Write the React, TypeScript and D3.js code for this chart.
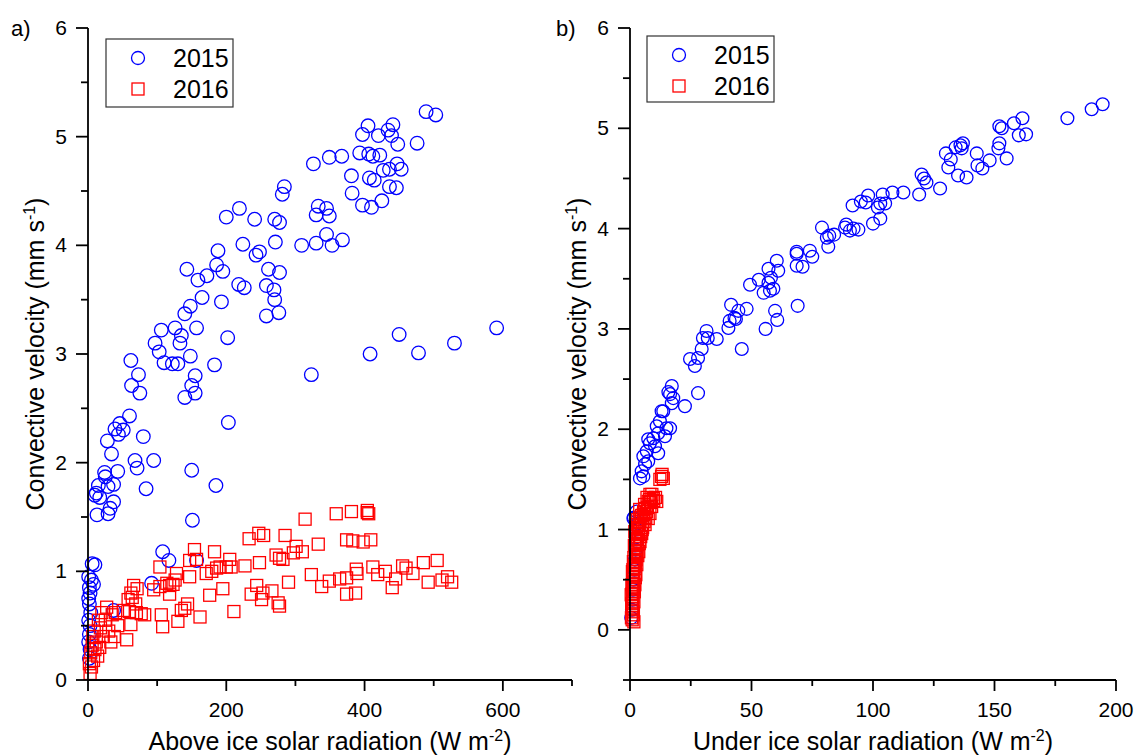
import { scaleLinear } from "d3";

const FONT = "'Liberation Sans', Arial, sans-serif";
const BLUE = "#0000ff";
const RED = "#ff0000";

type Pt = [number, number];

// tick values
const aboveTicks = [0, 200, 400, 600];
const aboveMinor = [100, 300, 500, 700];
const underTicks = [0, 50, 100, 150, 200];
const underMinor = [25, 75, 125, 175];
const velTicks = [0, 1, 2, 3, 4, 5, 6];
const leftVelMinor = [0.5, 1.5, 2.5, 3.5, 4.5, 5.5];
const rightVelMinor = [-0.5, 0.5, 1.5, 2.5, 3.5, 4.5, 5.5];
const years = ["2015", "2016"];

// a) above ice radiation vs convective velocity
const above2015: Pt[] = [
  [489, 5.23], [503, 5.2], [405, 5.1], [441, 5.11], [434, 5.06], [397, 5.02], [420, 5.01], [439, 5.01], [448, 4.93], [476, 4.94],
  [393, 4.85], [406, 4.84], [412, 4.82], [422, 4.83], [349, 4.81], [367, 4.82], [326, 4.75], [381, 4.64], [407, 4.62], [414, 4.6],
  [427, 4.69], [436, 4.7], [447, 4.75], [453, 4.7], [436, 4.54], [446, 4.53], [382, 4.48], [397, 4.37], [410, 4.35], [425, 4.41],
  [284, 4.54], [281, 4.47], [219, 4.34], [200, 4.26], [241, 4.24], [270, 4.24], [277, 4.21], [333, 4.36], [345, 4.34], [330, 4.28],
  [349, 4.27], [345, 4.1], [330, 4.02], [353, 4.0], [368, 4.05], [309, 4.0], [271, 4.03], [224, 4.01], [248, 3.94], [243, 3.91],
  [188, 3.95], [186, 3.82], [195, 3.76], [143, 3.78], [159, 3.68], [172, 3.72], [261, 3.78], [277, 3.75], [218, 3.64], [226, 3.61],
  [258, 3.63], [269, 3.59], [270, 3.5], [258, 3.35], [276, 3.38], [193, 3.48], [165, 3.52], [148, 3.44], [140, 3.37], [106, 3.22],
  [126, 3.24], [135, 3.17], [133, 3.1], [157, 3.24], [97, 3.1], [103, 3.02], [110, 2.92], [122, 2.91], [130, 2.91], [148, 2.98],
  [202, 3.15], [183, 2.9], [62, 2.94], [73, 2.81], [63, 2.71], [75, 2.64], [155, 2.8], [150, 2.71], [155, 2.64], [140, 2.6],
  [60, 2.43], [46, 2.36], [39, 2.31], [51, 2.3], [44, 2.26], [28, 2.2], [80, 2.24], [203, 2.37], [34, 2.08], [68, 2.02],
  [71, 1.95], [95, 2.02], [43, 1.92], [24, 1.91], [25, 1.87], [150, 1.93], [37, 1.8], [29, 1.78], [15, 1.79], [84, 1.76],
  [185, 1.79], [10, 1.7], [408, 3.0], [450, 3.18], [478, 3.01], [530, 3.1], [591, 3.24], [323, 2.81],
  [151, 1.47], [108, 1.18], [117, 1.1], [157, 1.1], [92, 0.89], [37, 0.64], [13, 1.52], [29, 1.53], [32, 1.58], [17, 1.68],
  [37, 1.64], [12, 1.72], [6, 1.07], [10, 1.06], [8, 0.88], [2, 0.85], [3, 0.8], [1, 0.75], [2, 0.7], [4, 0.62],
  [1, 0.55], [3, 0.5], [2, 0.42], [1, 0.35], [3, 0.28], [2, 0.2], [5, 0.92], [1, 0.95],
];

const above2016: Pt[] = [
  [314, 1.48], [359, 1.53], [381, 1.55], [404, 1.54], [406, 1.53], [404, 1.56], [233, 1.3], [247, 1.35], [254, 1.33], [285, 1.33],
  [374, 1.29], [383, 1.28], [398, 1.27], [409, 1.29], [333, 1.25], [272, 1.15], [277, 1.12], [282, 1.11], [301, 1.23], [310, 1.18],
  [297, 1.17], [248, 1.08], [227, 1.05], [207, 1.04], [200, 1.04], [205, 1.11], [183, 1.18], [154, 1.2], [147, 1.1], [157, 1.11],
  [104, 1.04], [128, 0.98], [126, 0.92], [147, 0.95], [171, 0.98], [179, 1.0], [186, 1.03], [191, 1.04], [114, 0.89], [118, 0.87],
  [123, 0.88], [95, 0.83], [104, 0.86], [118, 0.79], [176, 0.78], [195, 0.84], [244, 0.87], [236, 0.79], [253, 0.8], [251, 0.74],
  [266, 0.82], [275, 0.71], [277, 0.68], [290, 0.9], [323, 0.97], [338, 0.86], [349, 0.91], [364, 0.93], [374, 0.94], [388, 1.02],
  [389, 0.98], [374, 0.79], [387, 0.8], [412, 1.04], [419, 0.97],
  [62, 0.8], [66, 0.87], [71, 0.84], [58, 0.74], [64, 0.76], [69, 0.7], [51, 0.64], [60, 0.63], [70, 0.62], [77, 0.61], [82, 0.6],
  [106, 0.6], [108, 0.49], [135, 0.64], [140, 0.66], [144, 0.7], [130, 0.54], [162, 0.58], [211, 0.63], [62, 0.51], [56, 0.37],
  [25, 0.55], [30, 0.45], [22, 0.4], [18, 0.48], [15, 0.55], [20, 0.62], [27, 0.67], [35, 0.6], [40, 0.62], [43, 0.5], [38, 0.4], [33, 0.35],
  [3, 0.06], [5, 0.12], [8, 0.18], [4, 0.25], [10, 0.28], [12, 0.35], [7, 0.4], [14, 0.22], [17, 0.3], [2, 0.15], [6, 0.32], [9, 0.45],
  [430, 1.0], [445, 0.93], [455, 1.05], [470, 0.98], [485, 1.08], [492, 0.9], [505, 1.1], [512, 0.92], [520, 0.95], [526, 0.9],
  [440, 0.85], [460, 1.03],
];

// b) under ice radiation vs convective velocity
const under2015: Pt[] = [
  [194.5, 5.24], [190, 5.19], [180, 5.1], [161.5, 5.1], [158, 5.05], [152, 5.02], [153, 5.0], [160, 4.93], [163, 4.94], [152, 4.85],
  [151.6, 4.8], [155, 4.7], [142.7, 4.75], [148, 4.68], [145, 4.6], [143, 4.63], [137, 4.85], [136, 4.83], [134, 4.81], [136.5, 4.8],
  [130, 4.75], [132, 4.69], [131, 4.61], [135, 4.53], [138.5, 4.51], [120, 4.54], [121, 4.5], [122, 4.46], [127.6, 4.4], [119, 4.34],
  [112.5, 4.36], [108, 4.36], [104, 4.34], [103, 4.25], [105, 4.25], [102, 4.21], [98, 4.33], [97, 4.26], [95, 4.27], [91.6, 4.23],
  [103, 4.1], [100, 4.05], [89, 4.04], [88.5, 4.01], [92, 4.0], [94, 3.99], [90.5, 3.98], [79, 4.01], [81, 3.91], [84, 3.94],
  [82, 3.93], [81.6, 3.82], [68.6, 3.77], [68.6, 3.75], [74, 3.78], [75, 3.72], [68.6, 3.63], [71, 3.62], [60.4, 3.68], [57, 3.6],
  [61, 3.58], [58, 3.51], [53, 3.49], [49.4, 3.44], [57, 3.46], [55, 3.36], [57.6, 3.38], [59, 3.4], [69, 3.23], [59.7, 3.18],
  [60.6, 3.09], [55.8, 3.0], [41.6, 3.24], [44.6, 3.18], [48, 3.2], [43, 3.11], [41, 3.08], [43.6, 3.1], [40.5, 3.01], [46, 2.8],
  [31.5, 2.98], [32, 2.91], [30, 2.91], [35.7, 2.9], [29.5, 2.8], [28, 2.71], [24.7, 2.7], [26.7, 2.63], [28, 2.36], [22.6, 2.23],
  [17.2, 2.43], [16.5, 2.35], [17.8, 2.31], [17.2, 2.26], [13.7, 2.18], [12.3, 2.08], [11, 2.03], [16.5, 2.01], [14.4, 1.93], [9.6, 1.91],
  [7.5, 1.9], [15.8, 2.37], [13, 2.18], [15, 2.01], [11.6, 1.96], [8.2, 1.86], [10.3, 1.83], [6.9, 1.78], [11.6, 1.76], [5.5, 1.73],
  [7.5, 1.68], [6.2, 1.65], [4.8, 1.58], [5.5, 1.53], [4.1, 1.51], [2.7, 1.18], [1.4, 1.11],
  [0.5, 0.12], [0.8, 0.2], [1, 0.3], [1.2, 0.4], [1.5, 0.5], [1.8, 0.6], [2, 0.7], [2.3, 0.8], [2.5, 0.9], [2.8, 1.0],
  [3.2, 1.06], [1.6, 1.12],
];

const under2016: Pt[] = [
  [13, 1.53], [12.3, 1.5], [13.7, 1.51], [13.2, 1.55], [8.2, 1.35], [9.6, 1.31], [11, 1.28], [7.5, 1.28], [8.9, 1.23], [6.2, 1.21],
  [8.2, 1.16], [5.5, 1.15], [7.5, 1.11], [4.1, 1.08], [6.2, 1.05], [3.4, 1.01], [4.8, 0.96], [2.7, 0.91], [4.1, 0.88], [2.1, 0.81],
  [2.7, 0.75], [1.4, 0.68], [2.1, 0.61], [1.4, 0.55], [1.1, 0.48], [1.4, 0.41], [1.1, 0.31], [1.1, 0.21], [1.4, 0.15], [1.6, 0.08],
  [3.5, 0.95], [3.0, 0.85], [3.6, 0.78], [2.5, 0.7], [1.8, 0.64], [2.2, 0.52], [0.8, 0.45], [0.9, 0.36], [0.7, 0.26], [0.6, 0.12],
  [5.2, 1.02], [6.8, 1.18], [4.5, 1.12], [9.8, 1.29], [2.0, 0.98], [3.0, 1.05], [1.0, 0.58], [0.5, 0.35],
  [0.9, 0.1], [1.3, 0.18], [0.8, 0.24], [1.6, 0.28], [1.2, 0.33], [1.8, 0.38], [1.0, 0.42], [2.0, 0.45], [1.6, 0.5], [2.4, 0.55],
  [1.2, 0.6], [2.8, 0.65], [2.2, 0.68], [1.6, 0.72], [3.2, 0.74], [2.5, 0.78], [1.8, 0.84], [3.8, 0.86], [3.0, 0.9], [2.2, 0.93],
  [4.4, 0.93], [3.6, 0.98], [2.6, 1.02], [5.0, 1.0], [4.0, 1.04], [5.8, 1.08], [3.2, 1.1], [4.8, 1.14], [6.5, 1.12], [5.6, 1.18],
  [4.0, 1.2], [7.2, 1.22], [6.0, 1.25], [8.5, 1.27], [7.0, 1.32], [9.0, 1.35], [8.0, 1.3], [10.5, 1.32],
];

interface PanelProps {
  tag: string;
  tagX: number;
  xRange: [number, number];
  yRange: [number, number];
  xDomain: [number, number];
  yDomain: [number, number];
  xTicks: number[];
  xMinor: number[];
  yMinor: number[];
  s2015: Pt[];
  s2016: Pt[];
  xTitle: string;
  yTitleX: number;
  legend: { x: number; y: number; w: number; h: number };
  r: number;
}

const Panel = (props: PanelProps) => {
  const { tag, tagX, xRange, yRange, xDomain, yDomain, xTicks, xMinor, yMinor, s2015, s2016, xTitle, yTitleX, legend, r } = props;
  const x = scaleLinear().domain(xDomain).range(xRange);
  const y = scaleLinear().domain(yDomain).range(yRange);
  const x0 = xRange[0];
  const yb = yRange[0];
  const sq = 12;

  return (
    <g>
      {s2015.map((d, i) => (
        <circle key={"c" + i} cx={x(d[0])} cy={y(d[1])} r={r} fill="none" stroke={BLUE} strokeWidth={1.3} />
      ))}
      {s2016.map((d, i) => (
        <rect key={"s" + i} x={x(d[0]) - sq / 2} y={y(d[1]) - sq / 2} width={sq} height={sq} fill="none" stroke={RED} strokeWidth={1.3} />
      ))}

      {/* axes */}
      <line x1={x0} x2={x0} y1={yb} y2={yRange[1]} stroke="#000" strokeWidth={1.8} />
      <line x1={x0} x2={xRange[1]} y1={yb} y2={yb} stroke="#000" strokeWidth={1.8} />
      {velTicks.map(t => (
        <g key={"yt" + t}>
          <line x1={x0 - 12} x2={x0} y1={y(t)} y2={y(t)} stroke="#000" strokeWidth={1.8} />
          <text x={x0 - 21} y={y(t) + 7} textAnchor="end" fontSize={21} fontFamily={FONT}>{t}</text>
        </g>
      ))}
      {yMinor.map(t => (
        <line key={"ym" + t} x1={x0 - 7} x2={x0} y1={y(t)} y2={y(t)} stroke="#000" strokeWidth={1.8} />
      ))}
      {xTicks.map(t => (
        <g key={"xt" + t}>
          <line x1={x(t)} x2={x(t)} y1={yb} y2={yb + 11} stroke="#000" strokeWidth={1.8} />
          <text x={x(t)} y={717} textAnchor="middle" fontSize={21} fontFamily={FONT}>{t}</text>
        </g>
      ))}
      {xMinor.map(t => (
        <line key={"xm" + t} x1={x(t)} x2={x(t)} y1={yb} y2={yb + 6} stroke="#000" strokeWidth={1.8} />
      ))}

      {/* titles */}
      <text x={(xRange[0] + xRange[1]) / 2} y={750} textAnchor="middle" fontSize={25} fontFamily={FONT}>
        {xTitle}
        <tspan dy={-9} fontSize={16}>-2</tspan>
        <tspan dy={9}>)</tspan>
      </text>
      <text transform={`translate(${yTitleX},${(yRange[0] + yRange[1]) / 2}) rotate(-90)`} textAnchor="middle" fontSize={25} fontFamily={FONT}>
        Convective velocity (mm s
        <tspan dy={-9} fontSize={16}>-1</tspan>
        <tspan dy={9}>)</tspan>
      </text>
      <text x={tagX} y={36} fontSize={22} fontFamily={FONT}>{tag}</text>

      {/* legend */}
      <rect x={legend.x} y={legend.y} width={legend.w} height={legend.h} fill="#fff" stroke="#333" strokeWidth={1.2} />
      <circle cx={legend.x + 32} cy={legend.y + 19} r={6.5} fill="none" stroke={BLUE} strokeWidth={1.3} />
      <rect x={legend.x + 32 - 6} y={legend.y + 50 - 6} width={12} height={12} fill="none" stroke={RED} strokeWidth={1.3} />
      {years.map((yr, i) => (
        <text key={yr} x={legend.x + 67} y={legend.y + 28 + i * 31} fontSize={25} fontFamily={FONT}>{yr}</text>
      ))}
    </g>
  );
};

const App = () => {
  return (
    <svg width={1134} height={755} style={{ position: "absolute", left: 0, top: 0, background: "#fff" }}>
      <rect width={1134} height={755} fill="#fff" />
      <Panel
        tag="a)"
        tagX={11}
        xRange={[88, 572]}
        yRange={[680, 28]}
        xDomain={[0, 700]}
        yDomain={[0, 6]}
        xTicks={aboveTicks}
        xMinor={aboveMinor}
        yMinor={leftVelMinor}
        s2015={above2015}
        s2016={above2016}
        xTitle="Above ice solar radiation (W m"
        yTitleX={44}
        legend={{ x: 106, y: 39, w: 127, h: 68 }}
        r={6.8}
      />
      <Panel
        tag="b)"
        tagX={556}
        xRange={[630, 1116]}
        yRange={[680, 28]}
        xDomain={[0, 200]}
        yDomain={[-0.5, 6]}
        xTicks={underTicks}
        xMinor={underMinor}
        yMinor={rightVelMinor}
        s2015={under2015}
        s2016={under2016}
        xTitle="Under ice solar radiation (W m"
        yTitleX={586}
        legend={{ x: 647, y: 36, w: 127, h: 66 }}
        r={6.4}
      />
    </svg>
  );
};

export default App;
